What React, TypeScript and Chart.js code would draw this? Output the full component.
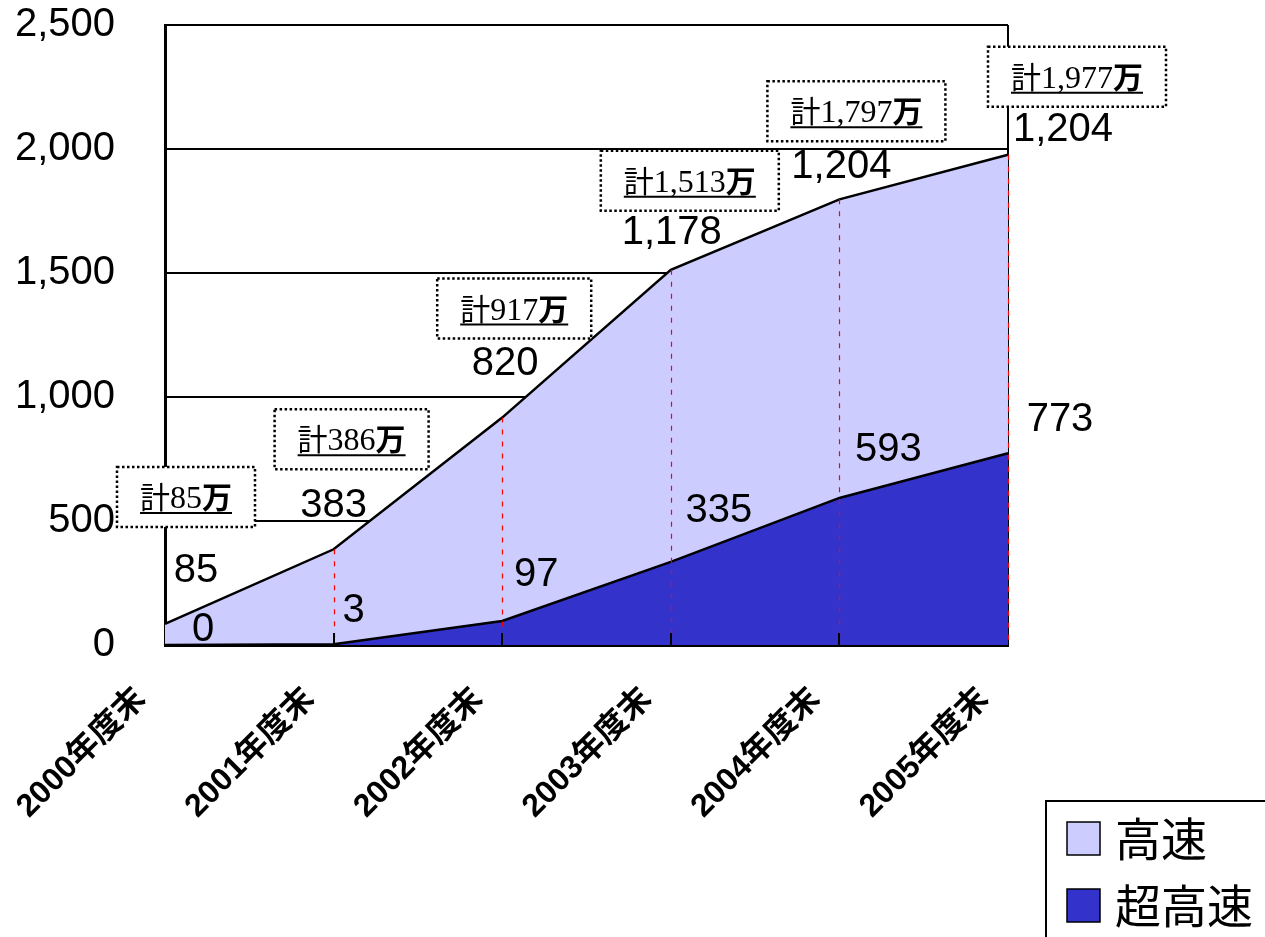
import React, { useEffect, useRef } from 'react';
import { Chart, registerables } from 'chart.js';

Chart.register(...registerables);

// Year-end categories
const categories = ['2000年度末', '2001年度末', '2002年度末', '2003年度末', '2004年度末', '2005年度末'];
// 超高速 (bottom layer), 万
const ultraHighSpeed = [0, 3, 97, 335, 593, 773];
// 高速 (stacked on top), 万
const highSpeed = [85, 383, 820, 1178, 1204, 1204];
// Value axis ticks
const yTicks = [0, 500, 1000, 1500, 2000, 2500];

// Label placement relative to each data point, in pixels [dx, dy]
const highLabelOffsets = [[31, -53], [0, -43], [3, -54], [1, -37], [2, -32], [55, -25]];
const ultraLabelOffsets = [[38, -15], [20, -33], [34, -46], [48, -51], [49, -48], [52, -33]];
const totalBoxOffsets = [[21, -127], [18, -110], [12, -109], [19, -89], [17, -88], [69, -78]];

const LIGHT = '#CCCCFF';
const DARK = '#3333CC';
const SANS = '"Liberation Sans", Arial, sans-serif';
const CJK = '"Noto Sans CJK JP", sans-serif';
const LABEL_FONT = '"Liberation Sans", Arial, "Noto Sans CJK JP", sans-serif';
const SERIF = '"Liberation Serif", "Times New Roman", serif';

const fmt = (v: number) => v.toLocaleString('en-US');

const overlayPlugin = {
  id: 'overlay',
  afterDatasetsDraw(chart: any) {
    const { ctx, chartArea, scales } = chart;
    const x = scales.x;
    const y = scales.y;
    const n = categories.length;
    ctx.save();
    // dashed drop lines from the total line to the base
    ctx.strokeStyle = '#FF0000';
    ctx.lineWidth = 1.2;
    ctx.setLineDash([5, 7]);
    for (let i = 1; i < n; i++) {
      const px = Math.round(x.getPixelForValue(i)) + 0.5;
      const top = y.getPixelForValue(ultraHighSpeed[i] + highSpeed[i]);
      ctx.beginPath();
      ctx.moveTo(px, top);
      ctx.lineTo(px, chartArea.bottom);
      ctx.stroke();
    }
    // short inner tick marks on the category axis
    ctx.setLineDash([]);
    ctx.strokeStyle = '#000';
    ctx.lineWidth = 2;
    for (let i = 1; i < n - 1; i++) {
      const px = Math.round(x.getPixelForValue(i));
      ctx.beginPath();
      ctx.moveTo(px, chartArea.bottom - 12);
      ctx.lineTo(px, chartArea.bottom);
      ctx.stroke();
    }
    ctx.restore();
  },
  afterDraw(chart: any) {
    const { ctx, chartArea, scales } = chart;
    const x = scales.x;
    const y = scales.y;
    const n = categories.length;
    ctx.save();

    // value labels
    ctx.fillStyle = '#000';
    ctx.font = `40px ${SANS}`;
    ctx.textAlign = 'center';
    ctx.textBaseline = 'middle';
    for (let i = 0; i < n; i++) {
      const px = x.getPixelForValue(i);
      const topHigh = y.getPixelForValue(ultraHighSpeed[i] + highSpeed[i]);
      const topUltra = y.getPixelForValue(ultraHighSpeed[i]);
      ctx.fillText(fmt(highSpeed[i]), px + highLabelOffsets[i][0], topHigh + highLabelOffsets[i][1]);
      ctx.fillText(fmt(ultraHighSpeed[i]), px + ultraLabelOffsets[i][0], topUltra + ultraLabelOffsets[i][1]);
    }

    // total callout boxes
    for (let i = 0; i < n; i++) {
      const total = ultraHighSpeed[i] + highSpeed[i];
      const px = x.getPixelForValue(i);
      const py = y.getPixelForValue(total);
      const cx = px + totalBoxOffsets[i][0];
      const cy = py + totalBoxOffsets[i][1];
      const parts: [string, string][] = [
        ['計', `30px ${CJK}`],
        [fmt(total), `32px ${SERIF}`],
        ['万', `bold 30px ${CJK}`],
      ];
      let tw = 0;
      const widths = parts.map(([t, f]) => {
        ctx.font = f;
        const w = ctx.measureText(t).width;
        tw += w;
        return w;
      });
      const bw = tw + 46;
      const bh = 60;
      ctx.fillStyle = '#fff';
      ctx.fillRect(cx - bw / 2, cy - bh / 2, bw, bh);
      ctx.strokeStyle = '#000';
      ctx.lineWidth = 2.5;
      ctx.setLineDash([2.5, 2.5]);
      ctx.strokeRect(cx - bw / 2, cy - bh / 2, bw, bh);
      ctx.setLineDash([]);
      ctx.fillStyle = '#000';
      ctx.textAlign = 'left';
      ctx.textBaseline = 'alphabetic';
      let tx = cx - tw / 2;
      const base = cy + 11;
      parts.forEach(([t, f], k) => {
        ctx.font = f;
        ctx.fillText(t, tx, base);
        tx += widths[k];
      });
      ctx.lineWidth = 2;
      ctx.beginPath();
      ctx.moveTo(cx - tw / 2, base + 5);
      ctx.lineTo(cx + tw / 2, base + 5);
      ctx.stroke();
    }

    // rotated category labels
    ctx.font = `bold 32px ${LABEL_FONT}`;
    ctx.fillStyle = '#000';
    ctx.textAlign = 'right';
    ctx.textBaseline = 'middle';
    for (let i = 0; i < n; i++) {
      const px = x.getPixelForValue(i);
      ctx.save();
      ctx.translate(px - 24, chartArea.bottom + 49);
      ctx.rotate(-Math.PI / 4);
      ctx.fillText(categories[i], 0, 0);
      ctx.restore();
    }

    // legend
    const lx = 1046;
    const ly = 801;
    ctx.strokeStyle = '#000';
    ctx.lineWidth = 2;
    ctx.beginPath();
    ctx.moveTo(lx, chart.height);
    ctx.lineTo(lx, ly);
    ctx.lineTo(chart.width, ly);
    ctx.stroke();
    const items = [...chart.data.datasets].reverse();
    items.forEach((ds: any, k: number) => {
      const rowY = 838 + k * 67;
      ctx.fillStyle = ds.backgroundColor;
      ctx.fillRect(1067, rowY - 16, 33, 33);
      ctx.strokeStyle = '#000';
      ctx.lineWidth = 1.5;
      ctx.strokeRect(1067, rowY - 16, 33, 33);
      ctx.fillStyle = '#000';
      ctx.font = `46px ${CJK}`;
      ctx.textAlign = 'left';
      ctx.textBaseline = 'middle';
      ctx.fillText(ds.label, 1115, rowY + 1);
    });
    ctx.restore();
  },
};

export default function App() {
  const canvasRef = useRef<HTMLCanvasElement | null>(null);

  useEffect(() => {
    const canvas = canvasRef.current;
    if (!canvas) return;
    const last = categories.length - 1;
    const chart = new Chart(canvas, {
      type: 'line',
      data: {
        labels: categories,
        datasets: [
          {
            label: '超高速',
            data: ultraHighSpeed,
            fill: 'origin',
            backgroundColor: DARK,
            borderColor: '#000',
            borderWidth: 2.5,
            pointRadius: 0,
            tension: 0,
          },
          {
            label: '高速',
            data: highSpeed,
            fill: '-1',
            backgroundColor: LIGHT,
            borderColor: '#000',
            borderWidth: 2.5,
            pointRadius: 0,
            tension: 0,
          },
        ],
      },
      options: {
        responsive: false,
        animation: false,
        events: [],
        layout: { padding: { left: 0, top: 25, right: 257, bottom: 292 } },
        plugins: {
          legend: { display: false },
          tooltip: { enabled: false },
        },
        scales: {
          x: {
            type: 'category',
            offset: false,
            grid: {
              color: (c: any) => (c.index === last ? '#000' : 'rgba(0,0,0,0)'),
              lineWidth: 2,
              drawTicks: false,
            },
            border: { display: true, color: '#000', width: 3 },
            ticks: { display: false },
            afterFit: (s: any) => {
              s.height = 0;
              s.paddingLeft = 0;
              s.paddingRight = 0;
            },
          },
          y: {
            stacked: true,
            min: 0,
            max: 2500,
            grid: { color: '#000', lineWidth: 2, drawTicks: false },
            border: { display: true, color: '#000', width: 3 },
            afterBuildTicks: (s: any) => {
              s.ticks = yTicks.map((v) => ({ value: v }));
            },
            ticks: {
              padding: 50,
              color: '#000',
              font: { family: SANS, size: 40 },
              callback: (v: any) => fmt(Number(v)),
            },
            afterFit: (s: any) => {
              s.width = 165;
              s.paddingTop = 0;
              s.paddingBottom = 0;
            },
          },
        },
      },
      plugins: [overlayPlugin],
    });
    return () => chart.destroy();
  }, []);

  return (
    <div style={{ position: 'absolute', left: 0, top: 0, width: 1265, height: 937, background: '#fff' }}>
      <canvas ref={canvasRef} width={1265} height={937} style={{ display: 'block' }} />
    </div>
  );
}
